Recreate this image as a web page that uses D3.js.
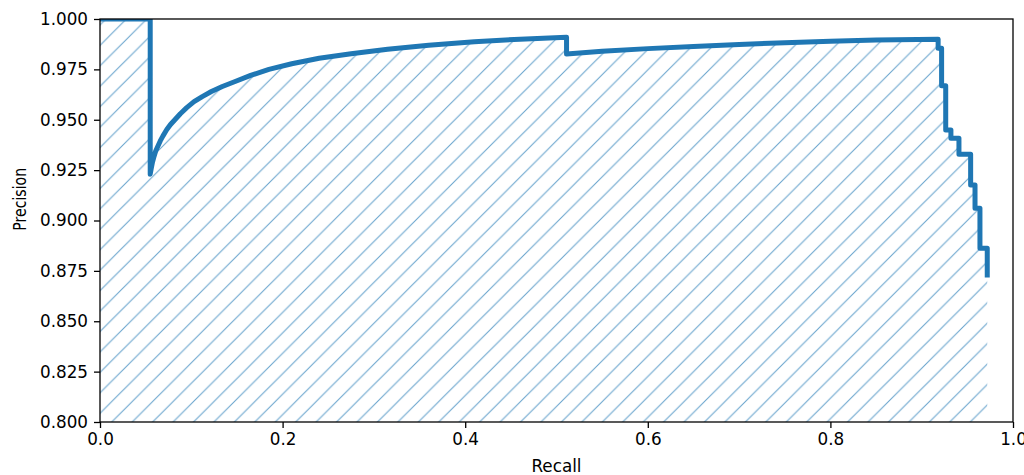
<!DOCTYPE html>
<html>
<head>
<meta charset="utf-8">
<script src="https://cdn.jsdelivr.net/npm/d3@7"></script>
<style>
  html, body { margin: 0; padding: 0; background: #fff; }
  svg { display: block; }
  text { font-family: "DejaVu Sans", sans-serif; fill: #000; }
</style>
</head>
<body>
<svg id="chart" width="1024" height="475"></svg>
<script>
// PR curve points, vertical drops given as repeated recall
const recall = [
  0.000, 0.055, 0.055, 0.056, 0.0575, 0.059, 0.061, 0.063, 0.066, 0.069, 0.073, 0.077,
  0.082, 0.088, 0.095, 0.103, 0.112, 0.122, 0.134, 0.148, 0.165, 0.185, 0.210, 0.240,
  0.275, 0.315, 0.360, 0.410, 0.460, 0.511,
  0.511, 0.550, 0.600, 0.650, 0.700, 0.750, 0.800, 0.850, 0.918,
  0.918, 0.9218, 0.9218, 0.9263, 0.9263, 0.932, 0.932, 0.9408, 0.9408, 0.9536,
  0.9536, 0.9584, 0.9584, 0.9638, 0.9638, 0.9718, 0.9718
];
const precision = [
  1.000, 1.000, 0.923, 0.9255, 0.929, 0.9315, 0.9345, 0.9365, 0.9395, 0.942, 0.945, 0.9475,
  0.950, 0.953, 0.956, 0.959, 0.9615, 0.964, 0.9665, 0.969, 0.972, 0.975, 0.9778, 0.9805,
  0.9828, 0.9850, 0.9870, 0.9887, 0.9900, 0.9910,
  0.9826, 0.9840, 0.9853, 0.9864, 0.9874, 0.9882, 0.9890, 0.9896, 0.9900,
  0.9855, 0.9855, 0.9669, 0.9669, 0.9449, 0.9449, 0.9408, 0.9408, 0.9329, 0.9329,
  0.9176, 0.9176, 0.9061, 0.9061, 0.8862, 0.8862, 0.8730
];
const xTicks = [0.0, 0.2, 0.4, 0.6, 0.8, 1.0];
const yTicks = [0.800, 0.825, 0.850, 0.875, 0.900, 0.925, 0.950, 0.975, 1.000];
const xLabel = "Recall";
const yLabel = "Precision";

const margin = {left: 100, right: 11, top: 19, bottom: 53};
const W = 1024, H = 475;
const iw = W - margin.left - margin.right;
const ih = H - margin.top - margin.bottom;
const fontPx = "16.8px";

const svg = d3.select("#chart");
const defs = svg.append("defs");

const x = d3.scaleLinear().domain([0, 1]).range([margin.left, margin.left + iw]);
const y = d3.scaleLinear().domain([0.8, 1.0]).range([margin.top + ih, margin.top]);

defs.append("clipPath").attr("id", "plotclip")
  .append("rect").attr("x", margin.left).attr("y", margin.top)
  .attr("width", iw).attr("height", ih);

// hatch pattern '/' aligned in pixel space
const s = 20.44;
const pat = defs.append("pattern").attr("id", "hatch")
  .attr("patternUnits", "userSpaceOnUse")
  .attr("width", s).attr("height", s)
  .attr("patternTransform", "translate(2.3,0)");
[[-s/2, s/2, s/2, -s/2], [0, s, s, 0], [s/2, 3*s/2, 3*s/2, s/2]].forEach(c => {
  pat.append("line")
    .attr("x1", c[0]).attr("y1", c[1]).attr("x2", c[2]).attr("y2", c[3])
    .attr("stroke", "#1f77b4").attr("stroke-opacity", 0.68).attr("stroke-width", 1.05);
});

const pts = recall.map((r, i) => [r, precision[i]]);

const plot = svg.append("g").attr("clip-path", "url(#plotclip)");

const area = d3.area()
  .x(d => x(d[0]))
  .y0(y(0.75))
  .y1(d => y(d[1]));

plot.append("path")
  .datum(pts)
  .attr("d", area)
  .attr("fill", "url(#hatch)")
  .attr("stroke", "none");

const line = d3.line().x(d => x(d[0])).y(d => y(d[1]));
plot.append("path")
  .datum(pts)
  .attr("d", line)
  .attr("fill", "none")
  .attr("stroke", "#1f77b4")
  .attr("stroke-width", 5)
  .attr("stroke-linejoin", "round")
  .attr("stroke-linecap", "square");

// axes
const xAxis = d3.axisBottom(x).tickValues(xTicks).tickFormat(d3.format(".1f"))
  .tickSize(6).tickPadding(5);
const yAxis = d3.axisLeft(y).tickValues(yTicks).tickFormat(d3.format(".3f"))
  .tickSize(6).tickPadding(6);

const gx = svg.append("g").attr("transform", `translate(0,${margin.top + ih})`).call(xAxis);
const gy = svg.append("g").attr("transform", `translate(${margin.left},0)`).call(yAxis);
[gx, gy].forEach(g => {
  g.select(".domain").remove();
  g.selectAll(".tick line").attr("stroke", "#000").attr("stroke-width", 1.3);
  g.selectAll(".tick text").attr("font-size", fontPx).attr("fill", "#000")
    .attr("font-family", "DejaVu Sans, sans-serif");
});

// spines
svg.append("rect")
  .attr("x", margin.left).attr("y", margin.top)
  .attr("width", iw).attr("height", ih)
  .attr("fill", "none").attr("stroke", "#000").attr("stroke-width", 1.3);

svg.append("text")
  .attr("x", x(0.5)).attr("y", 472)
  .attr("text-anchor", "middle").attr("font-size", fontPx)
  .text(xLabel);

svg.append("text")
  .attr("transform", `translate(26,${(y(0.9) + y(0.925)) / 2 + 4}) rotate(-90) scale(0.84,1)`)
  .attr("text-anchor", "middle").attr("font-size", fontPx)
  .text(yLabel);
</script>
</body>
</html>
